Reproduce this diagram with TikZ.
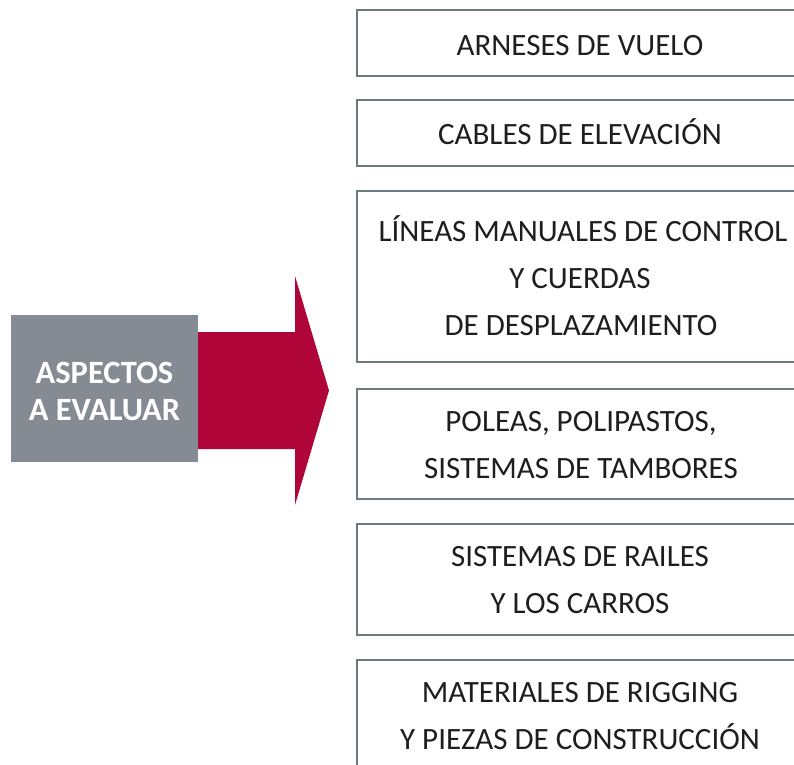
\documentclass[tikz,border=0pt]{standalone}
\usepackage{fontspec}
\setmainfont{Carlito}
\definecolor{boxgray}{HTML}{858B92}
\definecolor{arrowred}{HTML}{B00538}
\definecolor{edgegray}{HTML}{6E7A80}
\definecolor{txt}{HTML}{1E1E1E}
\begin{document}
\begin{tikzpicture}[x=1pt,y=-1pt,
  itembox/.style={draw=edgegray, line width=1.6pt, fill=white, minimum width=446pt, inner sep=0pt},
  itemtext/.style={anchor=base, inner sep=0pt, text=txt, font=\fontsize{31}{37}\selectfont},
  headtext/.style={anchor=base, inner sep=0pt, text=white, font=\fontsize{32.5}{38}\selectfont\bfseries}]
\useasboundingbox (0,0) rectangle (794,764);
\clip (0,0) rectangle (794,764);
% arrow
\fill[arrowred] (190,332) -- (295,332) -- (295,276) -- (329,390.5) -- (295,505) -- (295,449) -- (190,449) -- cycle;
\node[fill=boxgray, minimum width=187pt, minimum height=147pt, inner sep=0pt] (head) at (104.5,388.5) {};
\node[headtext] (heada) at (104.5,383) {ASPECTOS};
\node[headtext] (headb) at (104.5,420) {A EVALUAR};
% boxes
\node[itembox, minimum height=66pt] (b1) at (580,43) {};
\node[itemtext] (b1a) at (580,55) {ARNESES DE VUELO};
\node[itembox, minimum height=66pt] (b2) at (580,133) {};
\node[itemtext] (b2a) at (580,144) {CABLES DE ELEVACIÓN};
\node[itembox, minimum height=171pt] (b3) at (580,276.5) {};
\node[itemtext] (b3a) at (583,241) {LÍNEAS MANUALES DE CONTROL};
\node[itemtext] (b3b) at (580,288) {Y CUERDAS};
\node[itemtext] (b3c) at (581,335) {DE DESPLAZAMIENTO};
\node[itembox, minimum height=110pt] (b4) at (580,444) {};
\node[itemtext] (b4a) at (581,431) {POLEAS, POLIPASTOS,};
\node[itemtext] (b4b) at (581,478) {SISTEMAS DE TAMBORES};
\node[itembox, minimum height=111pt] (b5) at (580,579.5) {};
\node[itemtext] (b5a) at (580,566.5) {SISTEMAS DE RAILES};
\node[itemtext] (b5b) at (580,613.5) {Y LOS CARROS};
\node[itembox, minimum height=111pt] (b6) at (580,715.5) {};
\node[itemtext] (b6a) at (580,702) {MATERIALES DE RIGGING};
\node[itemtext] (b6b) at (580,749) {Y PIEZAS DE CONSTRUCCIÓN};
\end{tikzpicture}
\end{document}
